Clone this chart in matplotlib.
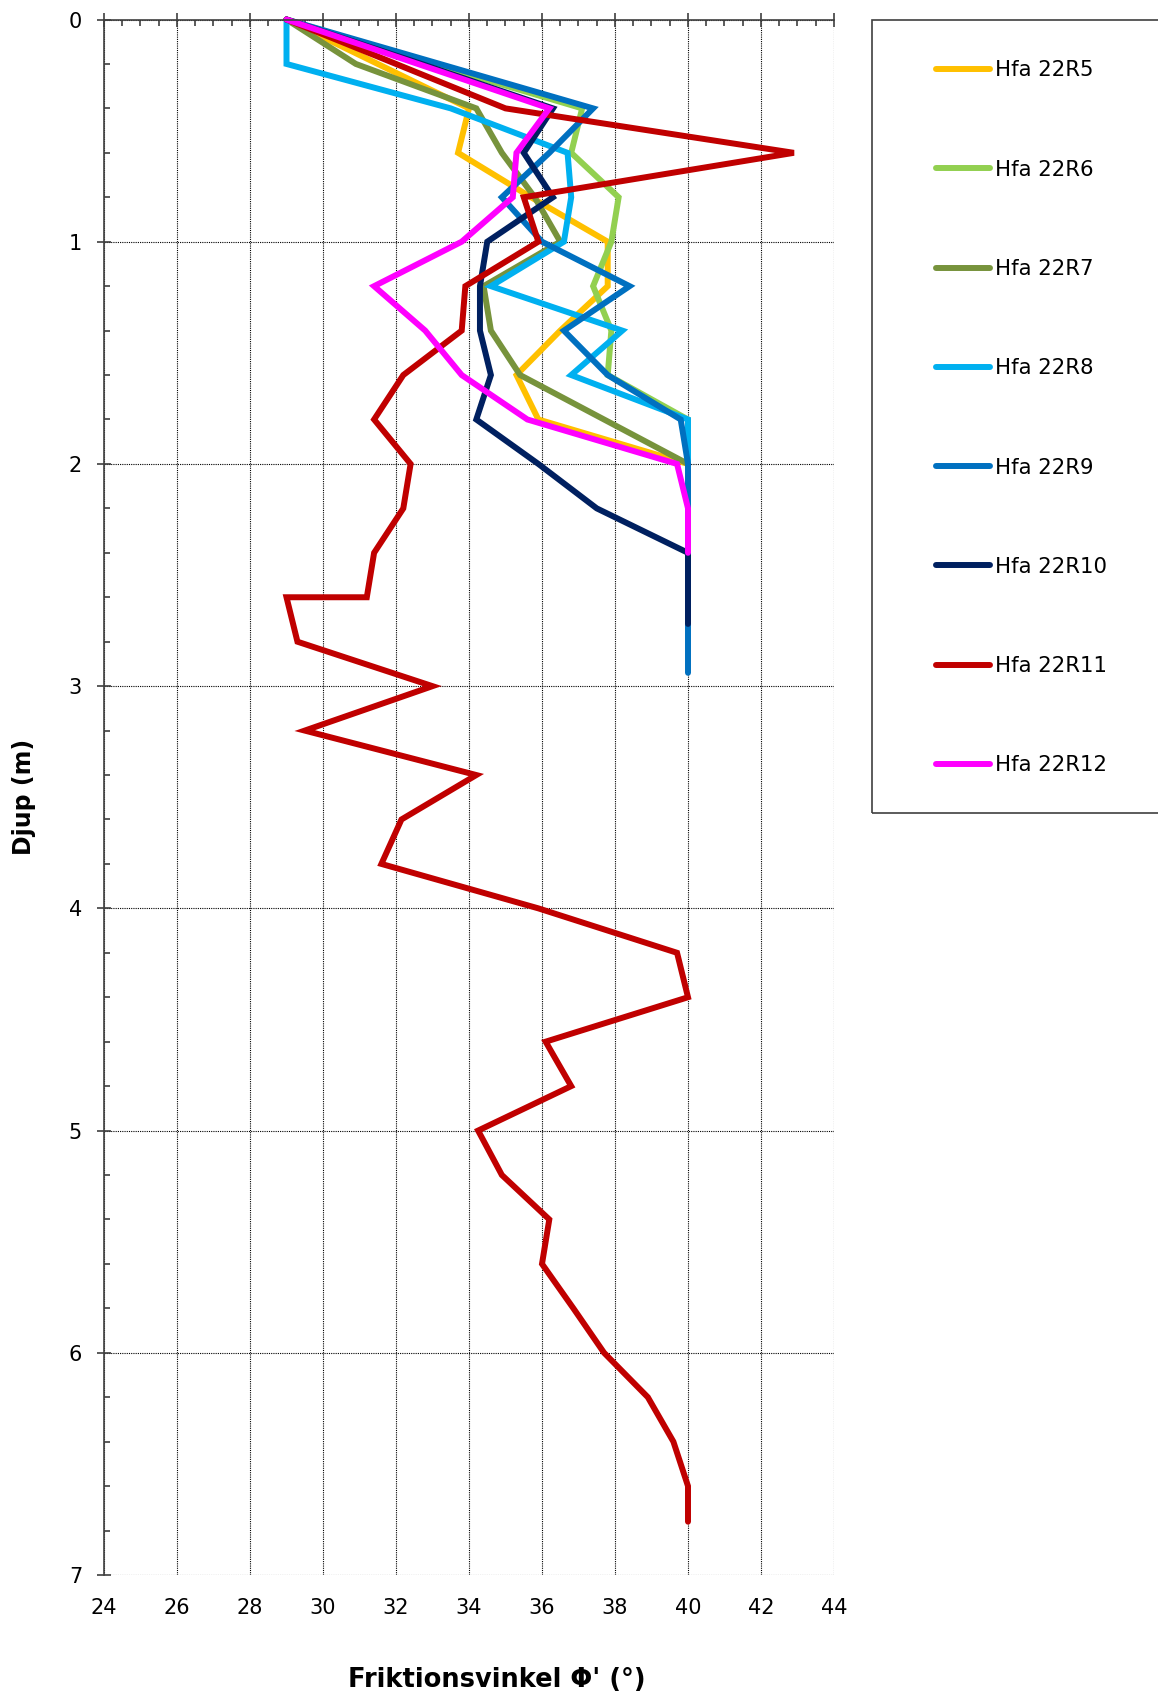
import matplotlib.pyplot as plt
from matplotlib.ticker import MultipleLocator
from matplotlib.patches import Rectangle

# Djup (m) och friktionsvinkel (grader) per sondering
djup_r5 = [0, 0.2, 0.4, 0.6, 0.8, 1.0, 1.2, 1.4, 1.6, 1.8, 2.0]
phi_r5 = [29.0, 31.5, 34.0, 33.7, 35.7, 37.8, 37.8, 36.5, 35.3, 35.9, 40.0]

djup_r6 = [0, 0.2, 0.4, 0.6, 0.8, 1.0, 1.2, 1.4, 1.6, 1.8, 2.0]
phi_r6 = [29.0, 33.0, 37.1, 36.8, 38.1, 37.9, 37.4, 37.9, 37.8, 40.0, 40.0]

djup_r7 = [0, 0.2, 0.4, 0.6, 0.8, 1.0, 1.2, 1.4, 1.6, 1.8, 2.0]
phi_r7 = [29.0, 30.9, 34.2, 34.9, 35.8, 36.5, 34.4, 34.6, 35.4, 37.7, 40.0]

djup_r8 = [0, 0.2, 0.4, 0.6, 0.8, 1.0, 1.2, 1.4, 1.6, 1.8, 2.0]
phi_r8 = [29.0, 29.0, 33.5, 36.7, 36.8, 36.6, 34.6, 38.2, 36.8, 40.0, 40.0]

djup_r9 = [0, 0.2, 0.4, 0.6, 0.8, 1.0, 1.2, 1.4, 1.6, 1.8, 2.0, 2.2, 2.4, 2.6, 2.8, 2.94]
phi_r9 = [29.0, 33.2, 37.4, 36.2, 34.9, 36.0, 38.4, 36.6, 37.8, 39.8, 40.0, 40.0, 40.0, 40.0, 40.0, 40.0]

djup_r10 = [0, 0.2, 0.4, 0.6, 0.8, 1.0, 1.2, 1.4, 1.6, 1.8, 2.0, 2.2, 2.4, 2.6, 2.72]
phi_r10 = [29.0, 32.7, 36.3, 35.5, 36.3, 34.5, 34.3, 34.3, 34.6, 34.2, 35.9, 37.5, 40.0, 40.0, 40.0]

djup_r11 = [0, 0.2, 0.4, 0.6, 0.8, 1.0, 1.2, 1.4, 1.6, 1.8, 2.0, 2.2, 2.4, 2.6, 2.6,
            2.8, 3.0, 3.2, 3.4, 3.6, 3.8, 4.0, 4.2, 4.4, 4.6, 4.8, 5.0, 5.2, 5.4, 5.6,
            5.8, 6.0, 6.2, 6.4, 6.6, 6.76]
phi_r11 = [29.0, 32.0, 35.0, 42.9, 35.5, 35.9, 33.9, 33.8, 32.2, 31.4, 32.4, 32.2, 31.4, 31.2, 29.0,
           29.3, 33.0, 29.5, 34.2, 32.15, 31.6, 35.9, 39.7, 40.0, 36.1, 36.8, 34.25, 34.9, 36.2, 36.0,
           36.86, 37.7, 38.9, 39.6, 40.0, 40.0]

djup_r12 = [0, 0.2, 0.4, 0.6, 0.8, 1.0, 1.2, 1.4, 1.6, 1.8, 2.0, 2.2, 2.4]
phi_r12 = [29.0, 32.6, 36.2, 35.3, 35.2, 33.8, 31.4, 32.8, 33.8, 35.6, 39.7, 40.0, 40.0]

serier = [
    ("Hfa 22R5", djup_r5, phi_r5, "#FFC000"),
    ("Hfa 22R6", djup_r6, phi_r6, "#92D050"),
    ("Hfa 22R7", djup_r7, phi_r7, "#77933C"),
    ("Hfa 22R8", djup_r8, phi_r8, "#00B0F0"),
    ("Hfa 22R9", djup_r9, phi_r9, "#0070C0"),
    ("Hfa 22R10", djup_r10, phi_r10, "#002060"),
    ("Hfa 22R11", djup_r11, phi_r11, "#C00000"),
    ("Hfa 22R12", djup_r12, phi_r12, "#FF00FF"),
]

W, H = 1158, 1696
axelfarg = "#404040"

# Figur och axlar
fig = plt.figure(figsize=(W / 100, H / 100), dpi=100)
ax = fig.add_axes([104 / W, 1 - 1575 / H, 730 / W, 1555.5 / H])

for namn, djup, phi, farg in serier:
    ax.plot(phi, djup, color=farg, lw=4.3, solid_capstyle="round",
            solid_joinstyle="miter", label=namn, clip_on=False)

ax.set_xlim(24, 44)
ax.set_ylim(7, 0)
ax.xaxis.set_major_locator(MultipleLocator(2))
ax.xaxis.set_minor_locator(MultipleLocator(0.5))
ax.yaxis.set_major_locator(MultipleLocator(1))
ax.yaxis.set_minor_locator(MultipleLocator(0.2))

# Rutnät
ax.grid(True, which="major", color="black", linestyle=(0, (1, 1)), linewidth=0.8)
ax.set_axisbelow(True)

for s in ["bottom", "right"]:
    ax.spines[s].set_visible(False)
for s in ["top", "left"]:
    ax.spines[s].set_color(axelfarg)
    ax.spines[s].set_linewidth(1.2)

# Tickmarkeringar: x-axeln ligger överst, etiketterna nederst
ax.tick_params(axis="x", which="both", bottom=False, top=True,
               labelbottom=True, labeltop=False)
ax.tick_params(axis="x", which="major", direction="inout", length=10, width=1.2,
               color=axelfarg, labelsize=15, pad=11.5)
ax.tick_params(axis="x", which="minor", direction="in", length=4.5, width=1.2,
               color=axelfarg)
ax.tick_params(axis="y", which="both", left=True, right=False)
ax.tick_params(axis="y", which="major", direction="inout", length=10, width=1.2,
               color=axelfarg, labelsize=15, pad=10.8)
ax.tick_params(axis="y", which="minor", direction="in", length=4.5, width=1.2,
               color=axelfarg)

# Axeltitlar
fig.text(24 / W, 1 - 797 / H, "Djup (m)", rotation=90, ha="center", va="center",
         fontsize=17, fontweight="bold")
fig.text(497 / W, 1 - 1680 / H, "Friktionsvinkel \u03a6' (\u00b0)", ha="center",
         va="center", fontsize=18.5, fontweight="bold")

# Legend med ram som går utanför högerkanten
fig.patches.append(Rectangle((872 / W, 1 - 813 / H), 0.4, (813 - 19.5) / H,
                             transform=fig.transFigure, fill=False,
                             edgecolor=axelfarg, lw=1.2))
ax.legend(loc="upper left", bbox_to_anchor=(936 / W, 1 - 60.5 / H),
          bbox_transform=fig.transFigure, frameon=False, fontsize=15.3,
          handlelength=2.55, handletextpad=0.22, labelspacing=3.73,
          borderpad=0, borderaxespad=0)

fig.savefig("out.png", dpi=100)
